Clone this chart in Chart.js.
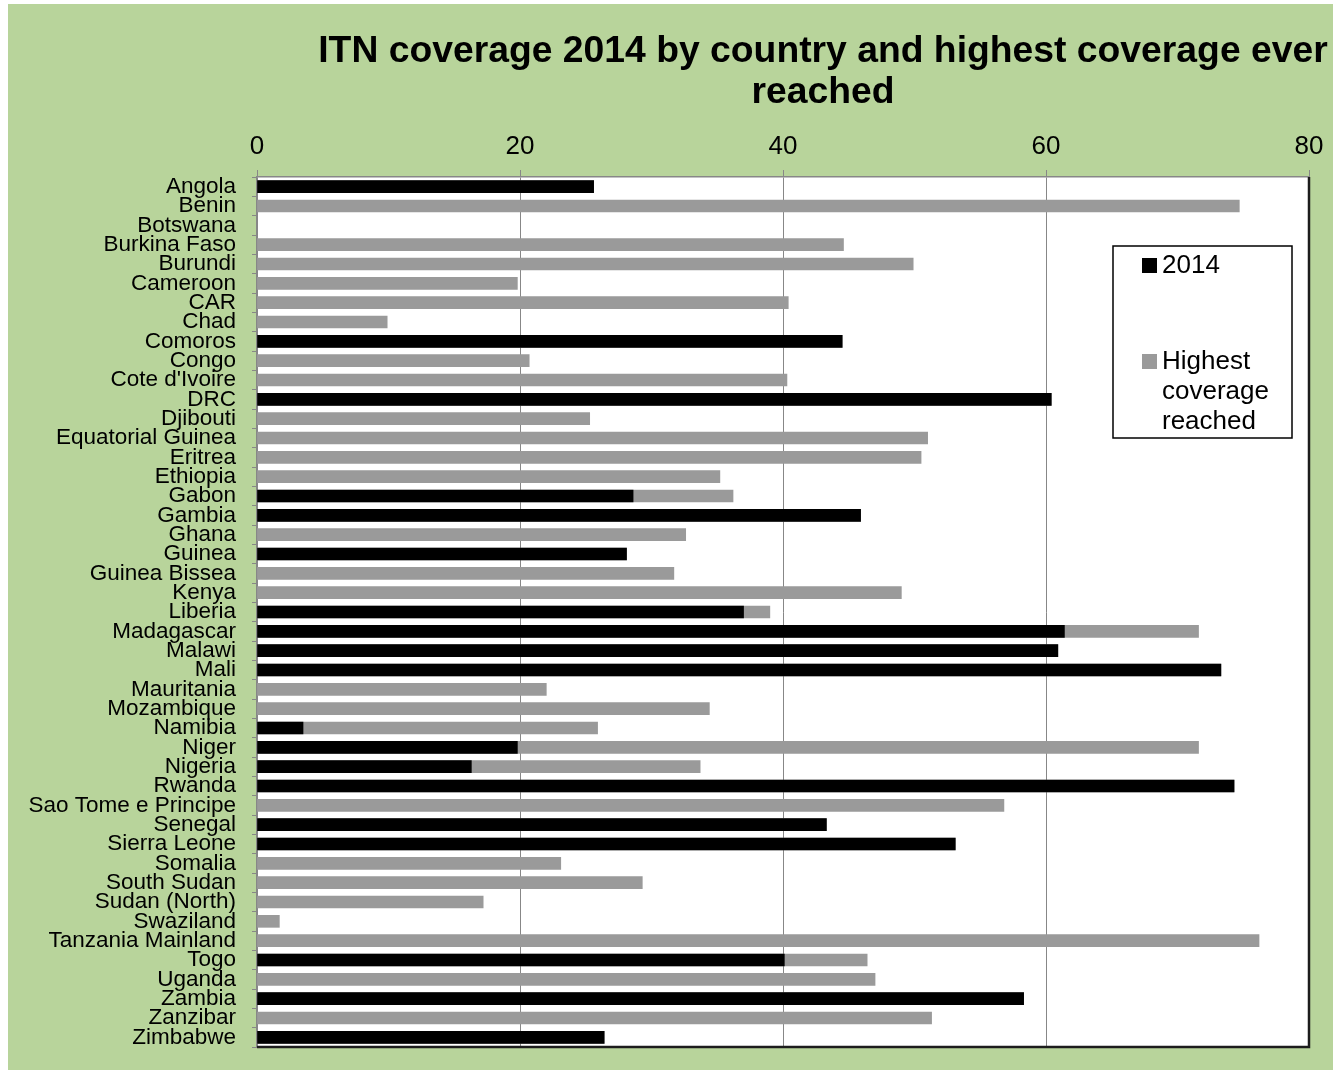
<!DOCTYPE html>
<html>
<head>
<meta charset="utf-8">
<title>ITN coverage 2014</title>
<script src="https://cdn.jsdelivr.net/npm/chart.js@4.4.0/dist/chart.umd.min.js"></script>
<style>
  html, body { margin: 0; padding: 0; background: #ffffff; }
  #wrap { position: absolute; left: 8px; top: 4px; width: 1325px; height: 1066px; background: #b8d49b; }
</style>
</head>
<body>
<div id="wrap"><canvas id="itnChart"></canvas></div>
<script>
// chart data
const countries = ["Angola", "Benin", "Botswana", "Burkina Faso", "Burundi", "Cameroon", "CAR", "Chad", "Comoros", "Congo",
  "Cote d'Ivoire", "DRC", "Djibouti", "Equatorial Guinea", "Eritrea", "Ethiopia", "Gabon", "Gambia", "Ghana", "Guinea",
  "Guinea Bissea", "Kenya", "Liberia", "Madagascar", "Malawi", "Mali", "Mauritania", "Mozambique", "Namibia", "Niger",
  "Nigeria", "Rwanda", "Sao Tome e Principe", "Senegal", "Sierra Leone", "Somalia", "South Sudan", "Sudan (North)", "Swaziland", "Tanzania Mainland",
  "Togo", "Uganda", "Zambia", "Zanzibar", "Zimbabwe"];

const coverage2014 = [25.6, null, null, null, null, null, null, null, 44.5, null,
  null, 60.4, null, null, null, null, 28.6, 45.9, null, 28.1,
  null, null, 37.0, 61.4, 60.9, 73.3, null, null, 3.5, 19.8,
  16.3, 74.3, null, 43.3, 53.1, null, null, null, null, null,
  40.1, null, 58.3, null, 26.4];

const highestCoverage = [25.6, 74.7, null, 44.6, 49.9, 19.8, 40.4, 9.9, 44.5, 20.7,
  40.3, 60.4, 25.3, 51.0, 50.5, 35.2, 36.2, 45.9, 32.6, 28.1,
  31.7, 49.0, 39.0, 71.6, 60.9, 73.3, 22.0, 34.4, 25.9, 71.6,
  33.7, 74.3, 56.8, 43.3, 53.1, 23.1, 29.3, 17.2, 1.7, 76.2,
  46.4, 47.0, 58.3, 51.3, 26.4];

const xTicks = [0, 20, 40, 60, 80];

const titleLines = ["ITN coverage 2014 by country and highest coverage ever", "reached"];
const FONT = "'Liberation Sans', Arial, sans-serif";

// white plot area + dark right/bottom frame
const plotFrame = {
  id: 'plotFrame',
  beforeDraw(chart) {
    const { ctx, chartArea: a } = chart;
    ctx.save();
    ctx.fillStyle = '#ffffff';
    ctx.fillRect(a.left, a.top, a.right - a.left, a.bottom - a.top);
    ctx.restore();
  },
  afterDraw(chart) {
    const { ctx, chartArea: a } = chart;
    ctx.save();
    ctx.strokeStyle = '#1c1c1c';
    ctx.lineWidth = 2.5;
    ctx.beginPath();
    ctx.moveTo(a.left, a.bottom);
    ctx.lineTo(a.right, a.bottom);
    ctx.lineTo(a.right, a.top);
    ctx.stroke();
    ctx.restore();
  }
};

// two-line title, centred a bit right of the canvas centre like the original
const titlePlugin = {
  id: 'titlePlugin',
  afterDraw(chart) {
    const ctx = chart.ctx;
    ctx.save();
    ctx.fillStyle = '#000';
    ctx.font = "bold 37.3px " + FONT;
    ctx.textAlign = 'center';
    ctx.textBaseline = 'alphabetic';
    ctx.fillText(titleLines[0], 815, 58);
    ctx.fillText(titleLines[1], 815, 99);
    ctx.restore();
  }
};

// boxed legend inside the plot, top right
const boxLegend = {
  id: 'boxLegend',
  afterDraw(chart) {
    const { ctx, chartArea: a } = chart;
    const left = a.right - 196, top = a.top + 69, w = 179, h = 192;
    ctx.save();
    ctx.fillStyle = '#fff';
    ctx.fillRect(left, top, w, h);
    ctx.strokeStyle = '#000';
    ctx.lineWidth = 1.5;
    ctx.strokeRect(left, top, w, h);
    ctx.font = "26px " + FONT;
    ctx.textBaseline = 'alphabetic';
    ctx.textAlign = 'left';
    const rows = [top + 27, top + 123];
    chart.data.datasets.forEach((ds, i) => {
      const y = rows[i];
      ctx.fillStyle = ds.backgroundColor;
      ctx.fillRect(left + 29, y - 15, 15, 15);
      ctx.fillStyle = '#000';
      // wrap label
      const words = ds.label.split(' ');
      let lines = [], cur = '';
      words.forEach(wd => {
        const t = cur ? cur + ' ' + wd : wd;
        if (ctx.measureText(t).width > 122 && cur) { lines.push(cur); cur = wd; } else cur = t;
      });
      lines.push(cur);
      lines.forEach((ln, k) => ctx.fillText(ln, left + 49, y + k * 30));
    });
    ctx.restore();
  }
};

const ctx = document.getElementById('itnChart');
new Chart(ctx, {
  type: 'bar',
  data: {
    labels: countries,
    datasets: [{
      label: '2014',
      data: coverage2014,
      backgroundColor: '#000000',
      grouped: false,
      barThickness: 12
    }, {
      label: 'Highest coverage reached',
      data: highestCoverage,
      backgroundColor: '#9a9a9a',
      grouped: false,
      barThickness: 12
    }]
  },
  options: {
    indexAxis: 'y',
    responsive: true,
    maintainAspectRatio: false,
    animation: false,
    devicePixelRatio: 1,
    layout: { padding: { left: 0, right: 24, top: 0, bottom: 23 } },
    plugins: {
      legend: { display: false },
      title: { display: false },
      tooltip: { enabled: false }
    },
    scales: {
      x: {
        position: 'top',
        min: 0,
        max: 80,
        afterBuildTicks: (scale) => { scale.ticks = xTicks.map(v => ({ value: v })); },
        afterFit: (scale) => { scale.height = 173; scale.paddingLeft = 0; scale.paddingRight = 0; },
        ticks: {
          color: '#000',
          font: { family: FONT, size: 26 },
          padding: 8
        },
        grid: { color: '#878787', lineWidth: 1, tickLength: 7 },
        border: { color: '#878787', width: 1.5 }
      },
      y: {
        afterFit: (scale) => { scale.width = 249; scale.paddingTop = 0; scale.paddingBottom = 0; },
        ticks: {
          color: '#000',
          font: { family: FONT, size: 22.5 },
          padding: 16,
          autoSkip: false
        },
        grid: { drawOnChartArea: false, color: '#878787', tickLength: 5, offset: true },
        border: { color: '#878787', width: 1.5 }
      }
    }
  },
  plugins: [plotFrame, titlePlugin, boxLegend]
});
</script>
</body>
</html>
